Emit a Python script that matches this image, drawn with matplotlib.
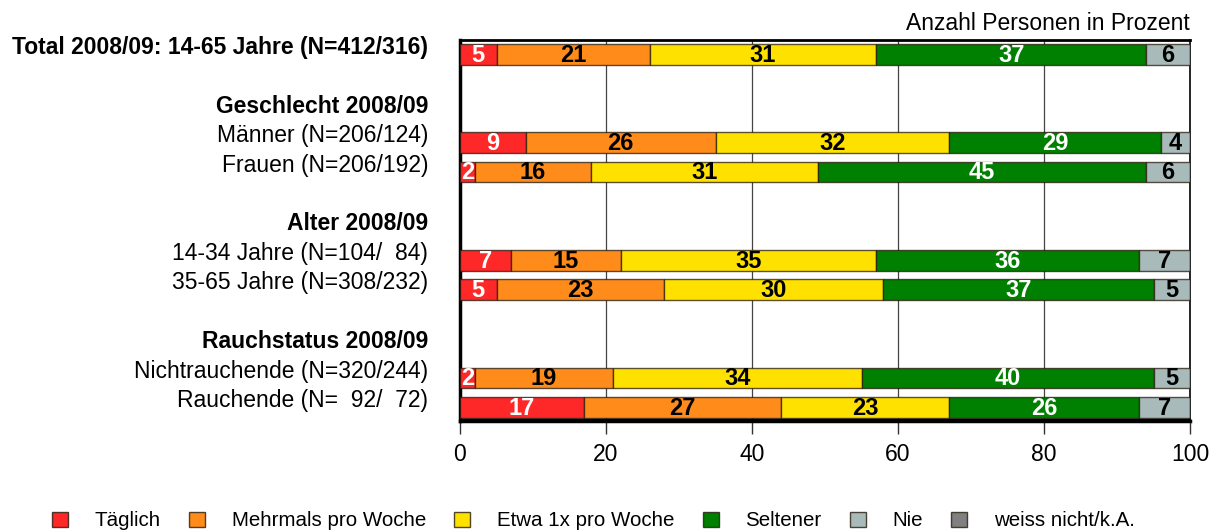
import matplotlib
matplotlib.use("Agg")
import matplotlib.pyplot as plt
from matplotlib.patches import Patch
import matplotlib.transforms as mtransforms

plt.rcParams['font.family'] = ['Liberation Sans', 'DejaVu Sans']

# ---- data ----
row_labels = [
    "Total 2008/09: 14-65 Jahre (N=412/316)",
    "",
    "Geschlecht 2008/09",
    "Männer (N=206/124)",
    "Frauen (N=206/192)",
    "",
    "Alter 2008/09",
    "14-34 Jahre (N=104/  84)",
    "35-65 Jahre (N=308/232)",
    "",
    "Rauchstatus 2008/09",
    "Nichtrauchende (N=320/244)",
    "Rauchende (N=  92/  72)",
]
bold_labels = ["Total 2008/09: 14-65 Jahre (N=412/316)", "Geschlecht 2008/09",
               "Alter 2008/09", "Rauchstatus 2008/09"]
series_names = ["Täglich", "Mehrmals pro Woche", "Etwa 1x pro Woche",
                "Seltener", "Nie", "weiss nicht/k.A."]
bar_rows = [
    "Total 2008/09: 14-65 Jahre (N=412/316)",
    "Männer (N=206/124)",
    "Frauen (N=206/192)",
    "14-34 Jahre (N=104/  84)",
    "35-65 Jahre (N=308/232)",
    "Nichtrauchende (N=320/244)",
    "Rauchende (N=  92/  72)",
]
taeglich = [5, 9, 2, 7, 5, 2, 17]
mehrmals = [21, 26, 16, 15, 23, 19, 27]
etwa1x = [31, 32, 31, 35, 30, 34, 23]
seltener = [37, 29, 45, 36, 37, 40, 26]
nie = [6, 4, 6, 7, 5, 5, 7]
weiss_nicht = [0, 0, 0, 0, 0, 0, 0]
xticks = [0, 20, 40, 60, 80, 100]

colors = ["#FF2828", "#FF8C1A", "#FFE100", "#008000", "#A8BABA", "#808080"]
text_colors = ["white", "black", "black", "white", "black", "white"]

series = [taeglich, mehrmals, etwa1x, seltener, nie, weiss_nicht]

fig = plt.figure(figsize=(12.11, 5.32), dpi=100)
ax = fig.add_axes([460 / 1211, 1 - 421 / 532, 730 / 1211, 381 / 532])

ypos = [row_labels.index(r) for r in bar_rows]
left = [0] * len(bar_rows)
for s, (vals, col, tcol) in enumerate(zip(series, colors, text_colors)):
    ax.barh(ypos, vals, left=left, height=0.70, color=col,
            edgecolor=(0.15, 0.1, 0.05, 0.75), linewidth=1.0, zorder=3)
    for y, v, l in zip(ypos, vals, left):
        if v > 0:
            ax.text(l + v / 2, y + 0.03, str(v), ha='center', va='center',
                    color=tcol, fontsize=17, fontweight='bold', zorder=4)
    left = [l + v for l, v in zip(left, vals)]

ax.set_xlim(0, 100)
ax.set_ylim(12.46, -0.49)
ax.set_xticks(xticks)
ax.set_xticklabels([str(t) for t in xticks], fontsize=16.5)
ax.tick_params(axis='x', length=9, width=1, direction='out', pad=7, color='#333333')
ax.set_yticks([])
for xv in xticks[1:-1]:
    ax.axvline(xv, color='#444444', linewidth=0.9, zorder=1)

ax.spines['top'].set_linewidth(2.0)
ax.spines['right'].set_linewidth(1.2)
ax.spines['left'].set_linewidth(2.5)
ax.spines['bottom'].set_linewidth(2.5)
ax.plot([0, 1], [0.006, 0.006], transform=ax.transAxes, color='black',
        linewidth=1.0, zorder=5, clip_on=False)

# row labels
trans = mtransforms.blended_transform_factory(ax.transAxes, ax.transData)
for i, lab in enumerate(row_labels):
    if not lab:
        continue
    ax.annotate(lab, xy=(0, i), xycoords=trans, xytext=(-32, 7),
                textcoords='offset pixels', ha='right', va='center',
                fontsize=16.5,
                fontweight='bold' if lab in bold_labels else 'normal')

fig.text(1190 / 1211, 1 - 23 / 532, "Anzahl Personen in Prozent",
         ha='right', va='center', fontsize=16.5)

handles = [Patch(facecolor=c, edgecolor=(0.15, 0.1, 0.05, 0.8), linewidth=1)
           for c in colors]
fig.legend(handles, series_names, loc='center', bbox_to_anchor=(0.49, 1 - 521 / 532),
           ncol=6, frameon=False, fontsize=14.8, handlelength=0.78,
           handleheight=0.78, handletextpad=1.3, columnspacing=1.37)

fig.savefig("out.png", dpi=100)
